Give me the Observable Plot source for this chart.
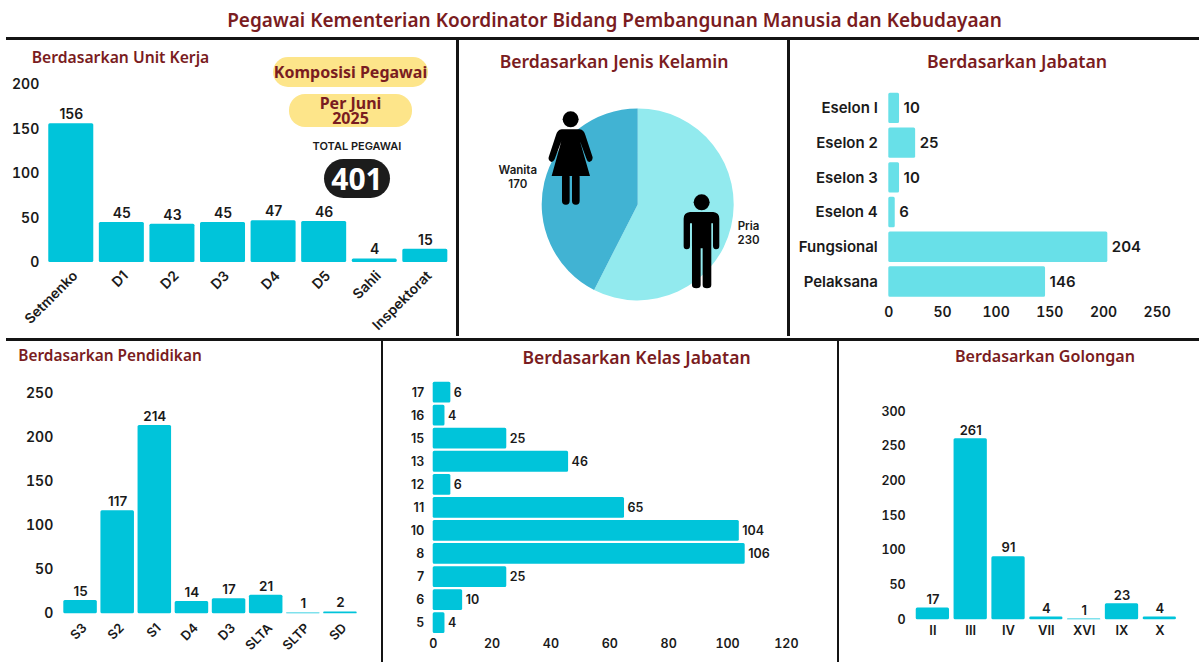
<!DOCTYPE html>
<html>
<head>
<meta charset="utf-8">
<script src="https://cdn.jsdelivr.net/npm/d3@7"></script>
<script src="https://cdn.jsdelivr.net/npm/@observablehq/plot@0.6"></script>
<style>
html,body{margin:0;padding:0;background:#fff;overflow:hidden}
#page{position:relative;width:1199px;height:662px;background:#fff;font-family:Inter,sans-serif;color:#1a1a1a;overflow:hidden}
.rule{position:absolute;background:#141414}
.panel{position:absolute}
.panel svg{display:block;background:transparent;overflow:visible}
.title{position:absolute;font-family:"Noto Sans",sans-serif;font-weight:600;color:#7a1c21;white-space:nowrap;transform:translate(-50%,-50%);line-height:1}
.pill{position:absolute;display:flex;align-items:center;justify-content:center;text-align:center;box-sizing:border-box}
</style>
</head>
<body>
<div id="page"></div>
<script>
const mainTitle = "Pegawai Kementerian Koordinator Bidang Pembangunan Manusia dan Kebudayaan";

const unitKategori = ["Setmenko","D1","D2","D3","D4","D5","Sahli","Inspektorat"];
const unitNilai = [156,45,43,45,47,46,4,15];

const kelaminKategori = ["Pria","Wanita"];
const kelaminNilai = [230,170];
const kelaminWarna = ["#92eaee","#41b3d3"];

const jabatanKategori = ["Eselon I","Eselon 2","Eselon 3","Eselon 4","Fungsional","Pelaksana"];
const jabatanNilai = [10,25,10,6,204,146];

const pendidikanKategori = ["S3","S2","S1","D4","D3","SLTA","SLTP","SD"];
const pendidikanNilai = [15,117,214,14,17,21,1,2];

const kelasKategori = ["17","16","15","13","12","11","10","8","7","6","5"];
const kelasNilai = [6,4,25,46,6,65,104,106,25,10,4];

const golonganKategori = ["II","III","IV","VII","XVI","IX","X"];
const golonganNilai = [17,261,91,4,1,23,4];

const page = document.getElementById("page");
const CYAN = "#00c4da", LIGHT = "#68e0e8", INK = "#1a1a1a";
const table = (cats, vals) => cats.map((k, i) => ({k, v: vals[i]}));

function addEl(cls, css, text) {
  const d = document.createElement("div");
  d.className = cls;
  d.style.cssText = css;
  if (text != null) d.textContent = text;
  page.appendChild(d);
  return d;
}

/* dividers */
[[6,37,1193,2.5],[6,338,1193,2.5]].forEach(([l,t,w,h]) => addEl("rule",`left:${l}px;top:${t}px;width:${w}px;height:${h}px`));
[[456,38,2.5,298],[787,38,2.5,298],[380.5,339,2.5,323],[836.5,339,2.5,323]].forEach(([l,t,w,h]) => addEl("rule",`left:${l}px;top:${t}px;width:${w}px;height:${h}px`));

/* titles */
addEl("title","left:614.5px;top:20px;font-size:19px",mainTitle);
[["Berdasarkan Unit Kerja",120.5,58,15.7],["Berdasarkan Jenis Kelamin",614,62,17.6],["Berdasarkan Jabatan",1017,62,17.7],
 ["Berdasarkan Pendidikan",110,356,15.4],["Berdasarkan Kelas Jabatan",636.5,358,17.5],["Berdasarkan Golongan",1045,356,16.1]]
 .forEach(([t,x,y,s]) => addEl("title",`left:${x}px;top:${y}px;font-size:${s}px`,t));

function mount(box, plot) {
  const d = addEl("panel",`left:${box.left}px;top:${box.top}px;width:${box.width}px;height:${box.height}px`);
  d.appendChild(plot);
}

function columns({box, area, cats, vals, yMax, yTicks, padding, font, xFont, valueFont, rotate, yPad, xPad, dyVal}) {
  const data = table(cats, vals);
  mount(box, Plot.plot({
    width: box.width, height: box.height,
    marginLeft: area.x0 - box.left, marginRight: box.left + box.width - area.x1,
    marginTop: area.y1 - box.top, marginBottom: box.top + box.height - area.y0,
    style: {fontFamily: "Inter, sans-serif", fontWeight: 600, color: INK, fontSize: font + "px", background: "transparent", overflow: "visible"},
    x: {domain: cats, padding, align: 0.5, round: false},
    y: {domain: [0, yMax]},
    marks: [
      Plot.barY(data, {x: "k", y: "v", fill: CYAN, r: 1.5}),
      Plot.text(data, {x: "k", y: "v", text: d => String(d.v), dy: dyVal, fontSize: valueFont, fill: INK, fontWeight: 600}),
      Plot.axisY({ticks: yTicks, tickSize: 0, tickPadding: yPad, label: null, fontSize: font, tickFormat: d => String(d)}),
      Plot.axisX({tickSize: 0, tickPadding: xPad, label: null, fontSize: xFont, tickRotate: rotate ? -45 : 0, dx: rotate ? 4 : 0})
    ]
  }));
}

function rows({box, area, cats, vals, xMax, xTicks, padding, font, yFont, valueFont, yPad, xPad, dxVal, fill}) {
  const data = table(cats, vals);
  mount(box, Plot.plot({
    width: box.width, height: box.height,
    marginLeft: area.x0 - box.left, marginRight: box.left + box.width - area.x1,
    marginTop: area.y0 - box.top, marginBottom: box.top + box.height - area.y1,
    style: {fontFamily: "Inter, sans-serif", fontWeight: 600, color: INK, fontSize: font + "px", background: "transparent", overflow: "visible"},
    y: {domain: cats, padding, align: 0.5, round: false},
    x: {domain: [0, xMax]},
    marks: [
      Plot.barX(data, {y: "k", x: "v", fill, r: 1.5}),
      Plot.text(data, {y: "k", x: "v", text: d => String(d.v), dx: dxVal, textAnchor: "start", fontSize: valueFont, fill: INK, fontWeight: 600}),
      Plot.axisY({tickSize: 0, tickPadding: yPad, label: null, fontSize: yFont}),
      Plot.axisX({ticks: xTicks, tickSize: 0, tickPadding: xPad, label: null, fontSize: font, tickFormat: d => String(d)})
    ]
  }));
}

/* Unit Kerja */
columns({box:{left:6,top:40,width:450,height:295}, area:{x0:42.7,x1:452.9,y0:262,y1:84.2},
  cats:unitKategori, vals:unitNilai, yMax:200, yTicks:[0,50,100,150,200], padding:0.11,
  font:14, xFont:14, valueFont:14, rotate:true, yPad:4, xPad:11, dyVal:-9});

/* Jenis Kelamin: pie drawn by d3.pie inside a Plot mark */
function pieMark(index, scales, values, dim) {
  const g = d3.create("svg:g");
  const cx = dim.marginLeft + (dim.width - dim.marginLeft - dim.marginRight) / 2;
  const cy = dim.marginTop + (dim.height - dim.marginTop - dim.marginBottom) / 2;
  const r = Math.min(dim.width - dim.marginLeft - dim.marginRight, dim.height - dim.marginTop - dim.marginBottom) / 2;
  const arcs = d3.pie().sort(null)(kelaminNilai);
  const arc = d3.arc().innerRadius(0).outerRadius(r);
  g.attr("transform", `translate(${cx},${cy})`);
  g.selectAll("path").data(arcs).join("path").attr("d", arc).attr("fill", (d, i) => kelaminWarna[i]);
  return g.node();
}
function iconMark() {
  const g = d3.create("svg:g").attr("transform", "translate(1,0) scale(0.3333)").attr("fill", "#000");
  g.append("circle").attr("cx", 332).attr("cy", 238).attr("r", 24);
  g.append("path").attr("d", "M305 268 L359 268 Q372 270 376 285 L398 352 Q398 364 388 366 Q382 366 380 358 L360 304 L390 408 L275 408 L304 304 L284 358 Q280 366 274 366 Q264 362 266 352 L288 285 Q292 270 305 268 Z");
  g.append("rect").attr("x", 306).attr("y", 400).attr("width", 23).attr("height", 94).attr("rx", 11);
  g.append("rect").attr("x", 336).attr("y", 400).attr("width", 23).attr("height", 94).attr("rx", 11);
  g.append("circle").attr("cx", 725).attr("cy", 487).attr("r", 24);
  g.append("path").attr("d", "M690 516 L760 516 Q778 518 778 536 L778 618 Q778 628 768 628 Q760 628 759 618 L759 550 L754 550 L754 735 Q754 745 741 745 Q728 745 728 735 L728 625 L722 625 L722 735 Q722 745 709 745 Q696 745 696 735 L696 550 L690 550 L690 618 Q690 628 680 628 Q671 628 671 618 L671 536 Q671 518 690 516 Z");
  return g.node();
}
const pieLabel = i => kelaminKategori[i] + "\n" + kelaminNilai[i];
mount({left:459,top:40,width:328,height:296}, Plot.plot({
  width:328, height:296, marginLeft:82.7, marginRight:53.3, marginTop:68.4, marginBottom:35.6,
  style:{fontFamily:"Inter, sans-serif",fontWeight:600,color:INK,background:"transparent",overflow:"visible"},
  x:{axis:null}, y:{axis:null},
  marks:[
    pieMark, iconMark,
    Plot.text([pieLabel(1)],{frameAnchor:"left",dx:-24.4,dy:-28,textAnchor:"middle",fontSize:11.5,lineHeight:1.2,fill:INK,fontWeight:600}),
    Plot.text([pieLabel(0)],{frameAnchor:"right",dx:14.3,dy:27.6,textAnchor:"middle",fontSize:11.5,lineHeight:1.2,fill:INK,fontWeight:600})
  ]
}));

/* Jabatan */
rows({box:{left:790,top:40,width:405,height:296}, area:{x0:888.3,x1:1156.7,y0:88.4,y1:301},
  cats:jabatanKategori, vals:jabatanNilai, xMax:250, xTicks:[0,50,100,150,200,250], padding:0.124,
  font:14, yFont:15, valueFont:15, yPad:11, xPad:6, dxVal:4, fill:LIGHT});

/* Pendidikan */
columns({box:{left:6,top:342,width:372,height:318}, area:{x0:59.7,x1:360.3,y0:613.3,y1:393.3},
  cats:pendidikanKategori, vals:pendidikanNilai, yMax:250, yTicks:[0,50,100,150,200,250], padding:0.097,
  font:14, xFont:13, valueFont:13.5, rotate:true, yPad:7, xPad:12, dyVal:-9});

/* Kelas Jabatan */
rows({box:{left:384,top:342,width:450,height:316}, area:{x0:432.7,x1:785.9,y0:379.4,y1:635.3},
  cats:kelasKategori, vals:kelasNilai, xMax:120, xTicks:[0,20,40,60,80,100,120], padding:0.098,
  font:12.5, yFont:12.5, valueFont:12.5, yPad:9, xPad:3, dxVal:3, fill:CYAN});

/* Golongan */
columns({box:{left:840,top:342,width:356,height:316}, area:{x0:911.2,x1:1180.5,y0:619.3,y1:411.3},
  cats:golonganKategori, vals:golonganNilai, yMax:300, yTicks:[0,50,100,150,200,250,300], padding:0.12,
  font:12.5, xFont:13, valueFont:13, rotate:false, yPad:6, xPad:6, dyVal:-8.5});

/* Composition badges */
addEl("pill",`left:273px;top:57px;width:155px;height:30px;border-radius:15px;background:#fde58a;color:#7a1c21;font:700 16px "Noto Sans",sans-serif;white-space:nowrap`,"Komposisi Pegawai");
addEl("pill",`left:289px;top:94px;width:123px;height:33px;border-radius:16px;background:#fde58a;color:#7a1c21;font:700 16px/15px "Noto Sans",sans-serif;white-space:pre-line`,"Per Juni\n2025");
addEl("pill",`left:297px;top:139px;width:120px;height:14px;font:600 11px Inter,sans-serif;color:#1a1a1a;white-space:nowrap`,"TOTAL PEGAWAI");
addEl("pill",`left:324px;top:159px;width:66px;height:39px;border-radius:20px;background:#1c1c1c;color:#fff;font:700 30px "Noto Sans",sans-serif`,"401");
</script>
</body>
</html>
